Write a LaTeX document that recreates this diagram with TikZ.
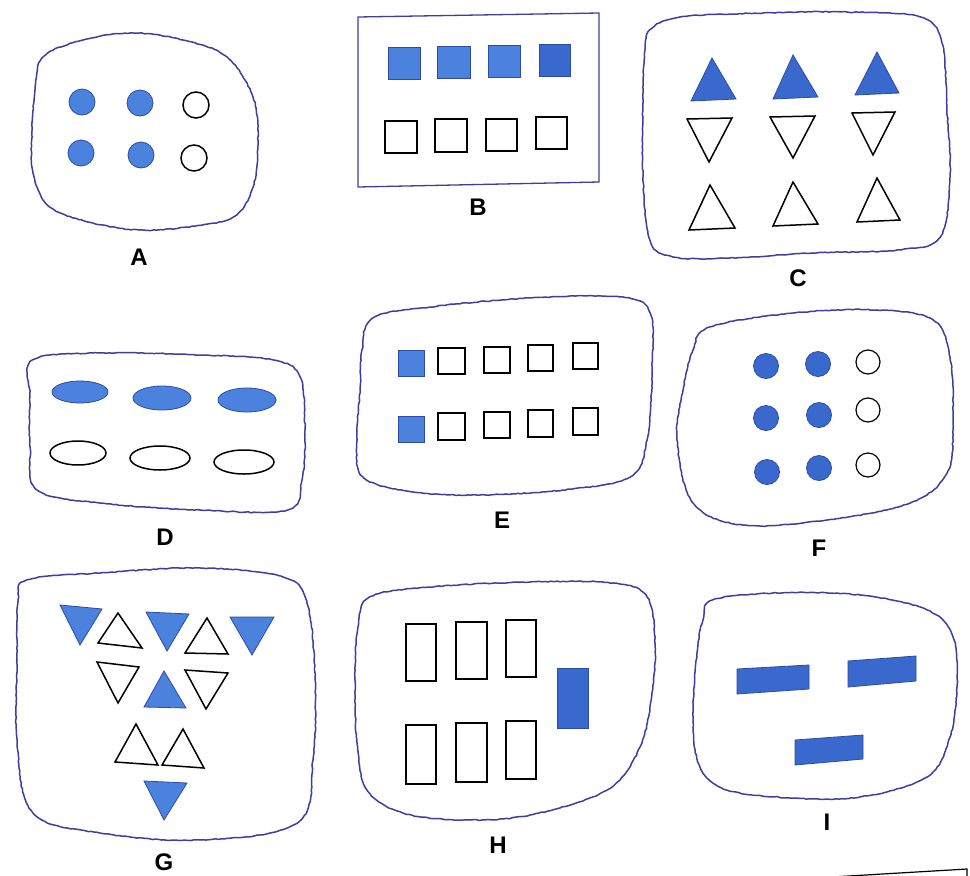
\documentclass[tikz,border=0pt]{standalone}
\usepackage{fontspec}
\setmainfont{Liberation Sans}
\usetikzlibrary{decorations.pathmorphing}
\definecolor{bluefill}{RGB}{74,130,222}
\definecolor{bluedark}{RGB}{58,105,205}
\definecolor{blueedge}{RGB}{45,75,165}
\definecolor{blobline}{RGB}{62,62,160}
\begin{document}
\begin{tikzpicture}[x=1pt,y=-1pt,
  blob/.style={draw=blobline,line width=1.5pt,line join=round,decorate,decoration={random steps,segment length=3pt,amplitude=0.45pt}},
  open/.style={draw=black,line width=1.5pt,fill=white,line join=miter},
  full/.style={draw=blueedge,line width=0.8pt,fill=bluefill},
  fulld/.style={draw=blueedge,line width=0.8pt,fill=bluedark},
  lab/.style={font=\fontsize{24}{24}\selectfont\bfseries,inner sep=0pt}]
\pgfmathsetseed{11}
\useasboundingbox (0,0) rectangle (970,876);
\fill[white] (0,0) rectangle (970,876);

% ---------- A ----------
\draw[blob] plot[smooth cycle,tension=0.6] coordinates{(43,57)(83,40)(133,33)(183,40)(227,57)(253,97)(258,140)(253,187)(233,217)(187,227)(140,230)(93,223)(50,207)(33,173)(32,130)(35,90)};
\foreach \x/\y in {82/102,140/103,81/153,141/155}{\draw[full] (\x,\y) circle[radius=13];}
\foreach \x/\y in {196/105,194/158}{\draw[open] (\x,\y) circle[radius=13];}
\node[lab] (labA) at (139,257) {A};

% ---------- B ----------
\draw[draw=blobline,line width=1.3pt] (358,17) -- (599,13) -- (599,182) -- (358,187) -- cycle;
\draw[full] (388,47) rectangle (420,79);
\draw[full] (437,46) rectangle (470,78);
\draw[full] (488,45) rectangle (520,77);
\draw[fulld] (539,44) rectangle (570,76);
\draw[open] (385,121) rectangle (417,153);
\draw[open] (435,119) rectangle (467,152);
\draw[open] (486,119) rectangle (517,151);
\draw[open] (536,117) rectangle (567,149);
\node[lab] (labB) at (478,207) {B};

% ---------- C ----------
\draw[blob] plot[smooth cycle,tension=0.6] coordinates{(650,30)(680,17)(763,13)(847,12)(920,17)(942,43)(947,110)(950,177)(940,237)(897,250)(813,253)(730,258)(673,257)(650,240)(643,177)(643,93)(645,50)};
\draw[fulld] (712,58) -- (736,99) -- (691,101) -- cycle;
\draw[fulld] (793,55) -- (818,97) -- (773,99) -- cycle;
\draw[fulld] (877,52) -- (899,93) -- (855,95) -- cycle;
\draw[open] (687,119) -- (732,118) -- (709,162) -- cycle;
\draw[open] (770,117) -- (815,116) -- (793,158) -- cycle;
\draw[open] (852,113) -- (895,112) -- (873,155) -- cycle;
\draw[open] (710,185) -- (735,228) -- (689,230) -- cycle;
\draw[open] (793,182) -- (818,224) -- (773,226) -- cycle;
\draw[open] (877,178) -- (900,220) -- (857,222) -- cycle;
\node[lab] (labC) at (798,278) {C};

% ---------- D ----------
\draw[blob] plot[smooth cycle,tension=0.6] coordinates{(33,360)(100,353)(200,355)(273,360)(300,377)(305,430)(302,480)(287,510)(200,510)(100,503)(37,490)(30,447)(30,397)};
\draw[full] (80,392) ellipse[x radius=28,y radius=11];
\draw[full] (162,398) ellipse[x radius=29,y radius=12];
\draw[full] (247,400) ellipse[x radius=29,y radius=12];
\draw[open] (78,453) ellipse[x radius=28,y radius=12];
\draw[open] (160,458) ellipse[x radius=30,y radius=12];
\draw[open] (244,462) ellipse[x radius=30,y radius=12];
\node[lab] (labD) at (165,537) {D};

% ---------- E ----------
\draw[blob] plot[smooth cycle,tension=0.6] coordinates{(373,318)(430,307)(530,298)(620,297)(650,313)(652,373)(647,440)(630,477)(563,490)(480,495)(413,492)(363,477)(357,440)(360,390)(362,350)};
\draw[full] (398,350) rectangle (424,376);
\draw[open] (438,348) rectangle (465,374);
\draw[open] (484,347) rectangle (510,373);
\draw[open] (528,345) rectangle (553,371);
\draw[open] (573,343) rectangle (598,369);
\draw[full] (398,416) rectangle (424,442);
\draw[open] (438,413) rectangle (465,440);
\draw[open] (484,412) rectangle (510,438);
\draw[open] (528,410) rectangle (553,437);
\draw[open] (573,408) rectangle (598,435);
\node[lab] (labE) at (502,520) {E};

% ---------- F ----------
\draw[blob] plot[smooth cycle,tension=0.6] coordinates{(710,327)(793,313)(877,310)(933,320)(950,357)(953,423)(947,473)(910,503)(827,520)(743,525)(693,503)(677,440)(683,390)(693,350)};
\foreach \x/\y in {766/366,818/364,766/418,819/415,767/472,819/468}{\draw[fulld] (\x,\y) circle[radius=12.5];}
\foreach \x/\y in {868/362,868/410,868/465}{\draw[open,line width=1.2pt] (\x,\y) circle[radius=12];}
\node[lab] (labF) at (819,548) {F};

% ---------- G ----------
\draw[blob] plot[smooth cycle,tension=0.6] coordinates{(27,580)(100,573)(200,568)(283,577)(307,603)(315,677)(313,760)(297,823)(200,840)(100,833)(33,813)(17,743)(17,660)(18,603)};
\draw[full] (60,605) -- (102,609) -- (80,645) -- cycle;
\draw[open] (118,613) -- (142,648) -- (98,643) -- cycle;
\draw[full] (146,612) -- (189,614) -- (167,651) -- cycle;
\draw[open] (207,618) -- (228,654) -- (185,653) -- cycle;
\draw[full] (230,617) -- (274,617) -- (252,655) -- cycle;
\draw[open] (97,662) -- (139,667) -- (118,703) -- cycle;
\draw[full] (164,671) -- (186,708) -- (144,707) -- cycle;
\draw[open] (185,670) -- (228,673) -- (206,709) -- cycle;
\draw[open] (136,724) -- (158,765) -- (115,762) -- cycle;
\draw[open] (183,729) -- (204,768) -- (162,765) -- cycle;
\draw[full] (144,781) -- (187,783) -- (164,820) -- cycle;
\node[lab] (labG) at (164,862) {G};

% ---------- H ----------
\draw[blob] plot[smooth cycle,tension=0.6] coordinates{(370,597)(430,587)(530,582)(613,583)(647,597)(655,643)(652,693)(640,747)(607,790)(530,815)(463,820)(403,813)(367,790)(357,743)(355,677)(358,627)};
\draw[open] (406,624) rectangle (436,681);
\draw[open] (456,622) rectangle (487,679);
\draw[open] (506,620) rectangle (536,677);
\draw[open] (406,725) rectangle (436,784);
\draw[open] (456,723) rectangle (487,782);
\draw[open] (506,721) rectangle (536,779);
\draw[fulld] (557,668) rectangle (588,728);
\node[lab] (labH) at (498,845) {H};

% ---------- I ----------
\draw[blob] plot[smooth cycle,tension=0.6] coordinates{(713,600)(777,593)(860,595)(927,610)(953,637)(957,687)(950,737)(927,777)(860,797)(793,798)(727,790)(700,767)(693,720)(697,653)(703,620)};
\draw[fulld] (737,669) -- (809,665) -- (809,689) -- (737,694) -- cycle;
\draw[fulld] (848,661) -- (916,656) -- (916,681) -- (848,687) -- cycle;
\draw[fulld] (795,740) -- (863,735) -- (863,759) -- (795,765) -- cycle;
\node[lab] (labI) at (827,822) {I};

% ---------- corner of a box ----------
\coordinate (k1) at (815,878);
\coordinate (k2) at (967,869);
\coordinate (k3) at (967,878);
\draw[black,line width=1.2pt] (k1) -- (k2) -- (k3);
\end{tikzpicture}
\end{document}
